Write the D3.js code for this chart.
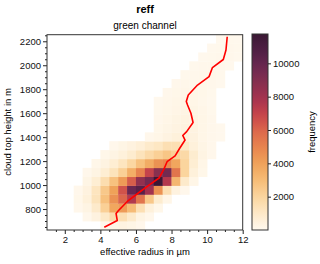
<!DOCTYPE html>
<html>
<head>
<meta charset="utf-8">
<script src="https://cdn.jsdelivr.net/npm/d3@7"></script>
<style>
    body { margin: 0; background: #fff; }
    svg { font-family: "Liberation Sans", Arial, sans-serif; }
</style>
</head>
<body>
<div id="chart"></div>
<script>
// histogram bins: x in um, y in m
const xEdgeStart = 1, xEdgeStep = 0.5;
const yEdgeStart = 625, yEdgeStep = 74.1;

// counts per bin, row 0 = lowest height bin, 22 columns each
const counts = [
    [0,0,0,0,0,0,100,250,350,250,100,0,0,0,0,0,0,0,0,0,0,0],
    [0,0,0,0,100,400,1000,1700,1500,900,300,100,0,0,0,0,0,0,0,0,0,0],
    [0,0,0,100,300,900,2200,3800,4200,3000,1500,500,150,0,0,0,0,0,0,0,0,0],
    [0,0,0,150,500,1300,2800,4500,6000,7500,5500,2500,800,200,0,0,0,0,0,0,0,0],
    [0,0,0,100,400,1200,2500,4000,6500,9800,10500,8000,4500,1500,400,100,0,0,0,0,0,0],
    [0,0,0,0,250,700,1600,2800,4200,6200,8500,9500,11700,7500,3200,900,200,0,0,0,0,0],
    [0,0,0,0,100,300,700,1300,2200,3500,5000,7000,8800,9500,5500,2000,500,150,0,0,0,0],
    [0,0,0,0,0,150,350,700,1200,1900,2800,3600,4500,4800,3800,2000,700,200,0,0,0,0],
    [0,0,0,0,0,0,150,300,500,800,1300,1800,2200,2600,2200,1800,800,300,100,0,0,0],
    [0,0,0,0,0,0,0,100,250,400,600,900,1100,1500,1500,1000,500,250,100,0,0,0],
    [0,0,0,0,0,0,0,0,0,0,0,100,200,350,500,500,400,200,100,50,0,0],
    [0,0,0,0,0,0,0,0,0,0,0,0,150,250,350,400,350,200,100,50,0,0],
    [0,0,0,0,0,0,0,0,0,0,0,0,100,200,300,350,300,200,100,0,0,0],
    [0,0,0,0,0,0,0,0,0,0,0,0,80,150,220,280,250,180,80,0,0,0],
    [0,0,0,0,0,0,0,0,0,0,0,0,50,120,200,220,200,120,50,0,0,0],
    [0,0,0,0,0,0,0,0,0,0,0,0,0,100,150,180,200,150,80,0,0,0],
    [0,0,0,0,0,0,0,0,0,0,0,0,0,0,100,120,150,150,100,50,0,0],
    [0,0,0,0,0,0,0,0,0,0,0,0,0,0,0,80,100,120,120,80,0,0],
    [0,0,0,0,0,0,0,0,0,0,0,0,0,0,0,0,80,100,100,100,50,0],
    [0,0,0,0,0,0,0,0,0,0,0,0,0,0,0,0,0,50,80,100,100,50],
    [0,0,0,0,0,0,0,0,0,0,0,0,0,0,0,0,0,0,50,80,100,80],
    [0,0,0,0,0,0,0,0,0,0,0,0,0,0,0,0,0,0,0,50,80,50]
];

// mean effective radius along height (red line)
const meanReff = [4.22, 4.95, 4.88, 5.02, 5.57, 6.17, 6.79, 7.30, 7.55, 7.75, 8.20, 8.45, 8.76, 8.63, 8.85, 9.21, 9.09, 8.90, 8.83, 8.94, 9.46, 10.11, 10.30, 10.91, 11.06, 11.13];
const meanHeight = [648, 704, 763, 788, 871, 938, 1005, 1059, 1126, 1195, 1243, 1305, 1376, 1414, 1446, 1522, 1599, 1668, 1698, 1752, 1835, 1905, 1981, 2048, 2127, 2238];

const xTicks = [2, 4, 6, 8, 10, 12];
const yTicks = [800, 1000, 1200, 1400, 1600, 1800, 2000, 2200];
const cbarTicks = [2000, 4000, 6000, 8000, 10000];
const cmapColors = ['#fff9ef', '#fde9c8', '#fbd6a0', '#f6bd78', '#f0a45a', '#e8864f', '#dd6a4c', '#c9464a', '#a6324f', '#87304f', '#6a2750', '#4f2045', '#3a1834'];

const width = 320, height = 264;
const plot = {left: 47, right: 242.7, top: 34.7, bottom: 230};
const cbar = {left: 252, right: 268, top: 34, bottom: 230};

const svg = d3.select('#chart').append('svg')
    .attr('width', width)
    .attr('height', height);

const x = d3.scaleLinear().domain([1, 12]).range([plot.left, plot.right]);
const y = d3.scaleLinear().domain([625, 2255]).range([plot.bottom, plot.top]);
const vmax = 11760;
const color = d3.scaleSequential(d3.piecewise(d3.interpolateRgb, cmapColors)).domain([0, vmax]);

// heatmap cells
const cells = [];
counts.forEach((row, j) => {
    row.forEach((v, i) => {
        if (v > 0) cells.push({i, j, v});
    });
});

svg.append('g')
    .selectAll('rect')
    .data(cells)
    .join('rect')
    .attr('x', d => x(xEdgeStart + d.i * xEdgeStep))
    .attr('y', d => y(yEdgeStart + (d.j + 1) * yEdgeStep))
    .attr('width', d => x(xEdgeStart + (d.i + 1) * xEdgeStep) - x(xEdgeStart + d.i * xEdgeStep) + 0.3)
    .attr('height', d => y(yEdgeStart + d.j * yEdgeStep) - y(yEdgeStart + (d.j + 1) * yEdgeStep) + 0.3)
    .attr('fill', d => color(d.v));

// mean line
const line = d3.line()
    .x((d, k) => x(d))
    .y((d, k) => y(meanHeight[k]));
svg.append('path')
    .attr('d', line(meanReff))
    .attr('fill', 'none')
    .attr('stroke', '#ff0000')
    .attr('stroke-width', 1.6)
    .attr('stroke-linejoin', 'round');

// axes
const xAxis = d3.axisBottom(x).tickValues(xTicks).tickSize(4).tickPadding(2).tickFormat(d3.format('d'));
const xMinor = d3.axisBottom(x).tickValues(d3.range(1.5, 12, 0.5).filter(v => v % 2 !== 0)).tickSize(2).tickFormat('');
const yAxis = d3.axisLeft(y).tickValues(yTicks).tickSize(4).tickPadding(2).tickFormat(d3.format('d'));
const yMinor = d3.axisLeft(y).tickValues(d3.range(650, 2255, 50).filter(v => v % 200 !== 0)).tickSize(2).tickFormat('');

function styleAxis(g) {
    g.select('.domain').remove();
    g.selectAll('line').attr('stroke', '#222');
    g.selectAll('text').attr('fill', '#111').style('font-size', '9.5px');
}

svg.append('g').attr('transform', `translate(0,${plot.bottom})`).call(xMinor).call(styleAxis);
svg.append('g').attr('transform', `translate(0,${plot.bottom})`).call(xAxis).call(styleAxis);
svg.append('g').attr('transform', `translate(${plot.left},0)`).call(yMinor).call(styleAxis);
svg.append('g').attr('transform', `translate(${plot.left},0)`).call(yAxis).call(styleAxis);

svg.append('rect')
    .attr('x', plot.left).attr('y', plot.top)
    .attr('width', plot.right - plot.left).attr('height', plot.bottom - plot.top)
    .attr('fill', 'none').attr('stroke', '#333').attr('stroke-width', 1);

// colorbar
const defs = svg.append('defs');
const grad = defs.append('linearGradient')
    .attr('id', 'cbar-grad')
    .attr('x1', 0).attr('y1', 1).attr('x2', 0).attr('y2', 0);
d3.range(0, 1.0001, 0.05).forEach(t => {
    grad.append('stop').attr('offset', t).attr('stop-color', color(t * vmax));
});

const cy = d3.scaleLinear().domain([0, vmax]).range([cbar.bottom, cbar.top]);
svg.append('rect')
    .attr('x', cbar.left).attr('y', cbar.top)
    .attr('width', cbar.right - cbar.left).attr('height', cbar.bottom - cbar.top)
    .attr('fill', 'url(#cbar-grad)').attr('stroke', '#333').attr('stroke-width', 1);

svg.append('g')
    .attr('transform', `translate(${cbar.right},0)`)
    .call(d3.axisRight(cy).tickValues(cbarTicks).tickSize(3).tickPadding(2).tickFormat(d3.format('d')))
    .call(styleAxis);

// text
svg.append('text')
    .attr('x', 145).attr('y', 13)
    .attr('text-anchor', 'middle')
    .style('font-size', '11px').style('font-weight', 'bold')
    .text('reff');

svg.append('text')
    .attr('x', 145).attr('y', 28.5)
    .attr('text-anchor', 'middle')
    .style('font-size', '10px')
    .text('green channel');

svg.append('text')
    .attr('x', 145).attr('y', 255)
    .attr('text-anchor', 'middle')
    .style('font-size', '9.5px')
    .text('effective radius in µm');

svg.append('text')
    .attr('transform', `translate(11,132) rotate(-90)`)
    .attr('text-anchor', 'middle')
    .style('font-size', '9.5px')
    .text('cloud top height in m');

svg.append('text')
    .attr('transform', `translate(315,132) rotate(-90)`)
    .attr('text-anchor', 'middle')
    .style('font-size', '9.5px')
    .text('frequency');
</script>
</body>
</html>
